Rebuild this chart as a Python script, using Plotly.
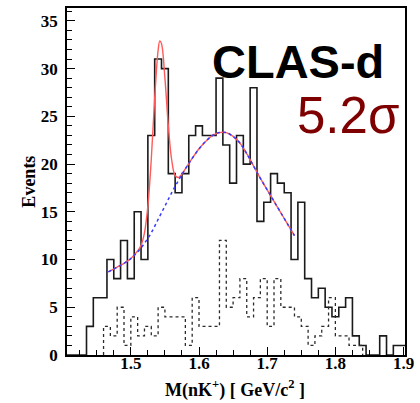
import plotly.graph_objects as go

# ---------------- data ----------------
bin_width = 0.01

# solid histogram (bin centres, counts)
solid_centers = [1.41, 1.42, 1.43, 1.44, 1.45, 1.46, 1.47, 1.48, 1.49, 1.50,
                 1.51, 1.52, 1.53, 1.54, 1.55, 1.56, 1.57, 1.58, 1.59, 1.60,
                 1.61, 1.62, 1.63, 1.64, 1.65, 1.66, 1.67, 1.68, 1.69, 1.70,
                 1.71, 1.72, 1.73, 1.74, 1.75, 1.76, 1.77, 1.78, 1.79, 1.80,
                 1.81, 1.82, 1.83, 1.84, 1.85, 1.86, 1.87, 1.88, 1.89, 1.90]
solid_counts = [0, 0, 0, 3, 6, 6, 10, 8, 12, 8,
                15, 10, 23, 31, 30, 19, 17, 19, 23, 24,
                23, 23, 29, 22, 18, 23, 20, 28, 14, 16,
                19, 18, 17, 10, 16, 8, 6, 7, 5, 4,
                5, 6, 2, 1, 0, 0, 2, 0, 1, 1]

# dotted histogram (bin centres, counts)
dotted_centers = [1.465, 1.475, 1.485, 1.495, 1.505, 1.515, 1.525, 1.535, 1.545, 1.555,
                  1.565, 1.575, 1.585, 1.595, 1.605, 1.615, 1.625, 1.635, 1.645, 1.655,
                  1.665, 1.675, 1.685, 1.695, 1.705, 1.715, 1.725, 1.735, 1.745, 1.755,
                  1.765, 1.775, 1.785, 1.795, 1.805, 1.815, 1.825, 1.835]
dotted_counts = [3, 2, 5, 1, 4, 2, 3, 2, 5, 4,
                 4, 4, 1, 6, 3, 3, 3, 12, 5, 6,
                 8, 4, 6, 8, 3, 8, 5, 5, 4, 3,
                 1, 2, 3, 6, 2, 2, 1, 1]

# background fit (blue dotted)
bg_x = [1.467, 1.48, 1.49, 1.50, 1.51, 1.52, 1.53, 1.54, 1.55, 1.56, 1.57, 1.58,
        1.59, 1.60, 1.61, 1.62, 1.63, 1.64, 1.65, 1.66, 1.67, 1.68, 1.69, 1.70,
        1.71, 1.72, 1.73, 1.74]
bg_y = [8.7, 9.2, 9.6, 10.1, 10.8, 11.7, 12.8, 14.2, 15.6, 17.0, 18.3, 19.5,
        20.6, 21.6, 22.4, 23.0, 23.3, 23.3, 22.9, 22.2, 21.1, 19.8, 18.5, 17.3,
        16.1, 14.9, 13.7, 12.5]

# total fit (red)
fit_x = [1.467, 1.48, 1.49, 1.50, 1.51, 1.515, 1.52, 1.525, 1.53, 1.535, 1.54,
         1.5425, 1.545, 1.55, 1.555, 1.56, 1.565, 1.57, 1.575, 1.58, 1.59, 1.60,
         1.61, 1.62, 1.63, 1.64, 1.65, 1.66, 1.67, 1.68, 1.69, 1.70, 1.71, 1.72,
         1.73, 1.74]
fit_y = [8.7, 9.2, 9.6, 10.1, 10.9, 11.5, 12.8, 15.6, 20.5, 26.9, 31.9,
         32.9, 32.6, 29.0, 24.0, 20.4, 18.8, 18.6, 18.95, 19.5, 20.6, 21.6,
         22.4, 23.0, 23.3, 23.3, 22.9, 22.2, 21.1, 19.8, 18.5, 17.3, 16.1, 14.9,
         13.7, 12.5]

x_ticks = [1.5, 1.6, 1.7, 1.8, 1.9]
y_ticks = [0, 5, 10, 15, 20, 25, 30, 35]


def step_xy(centers, counts):
    edges = [c - bin_width / 2 for c in centers] + [centers[-1] + bin_width / 2]
    xs = [edges[0]] + edges
    ys = [0] + counts + [counts[-1]]
    xs = xs + [edges[-1]]
    ys = ys + [0]
    return xs, ys


fig = go.Figure()

sx, sy = step_xy(solid_centers, solid_counts)
fig.add_trace(go.Scatter(x=sx, y=sy, mode="lines", line_shape="hv",
                         line=dict(color="#1a1a1a", width=1.6), hoverinfo="skip"))

dx, dy = step_xy(dotted_centers, dotted_counts)
fig.add_trace(go.Scatter(x=dx, y=dy, mode="lines", line_shape="hv",
                         line=dict(color="#2a2a2a", width=1.3, dash="dot"), hoverinfo="skip"))

fig.add_trace(go.Scatter(x=fit_x, y=fit_y, mode="lines", line_shape="spline",
                         line=dict(color="#ff5a5a", width=1.4), hoverinfo="skip"))
fig.add_trace(go.Scatter(x=bg_x, y=bg_y, mode="lines", line_shape="spline",
                         line=dict(color="#3a3aff", width=1.5, dash="dot"), hoverinfo="skip"))

axis_font = dict(family="Liberation Serif", size=17, color="black", weight="bold")

fig.update_layout(
    width=420, height=403,
    margin=dict(l=67, r=6, t=6, b=48),
    paper_bgcolor="white", plot_bgcolor="white",
    showlegend=False,
    xaxis=dict(range=[1.4064, 1.9021], tickvals=x_ticks,
               ticktext=[f"{v:.1f}" for v in x_ticks],
               ticks="inside", ticklen=8, tickwidth=1.3, tickcolor="black",
               minor=dict(dtick=0.025, tick0=1.4, ticks="inside", ticklen=5,
                          tickwidth=1.2, tickcolor="black"),
               showline=True, linecolor="black", linewidth=1.6, mirror=True,
               showgrid=False, zeroline=False, tickfont=axis_font,
               ticklabeloverflow="allow", ticklabelstandoff=-8),
    yaxis=dict(range=[0, 36.35], tickvals=y_ticks,
               ticks="inside", ticklen=8, tickwidth=1.3, tickcolor="black",
               minor=dict(dtick=1, tick0=0, ticks="inside", ticklen=5,
                          tickwidth=1.2, tickcolor="black"),
               showline=True, linecolor="black", linewidth=1.6, mirror=True,
               showgrid=False, zeroline=False, tickfont=axis_font,
               ticklabelstandoff=4),
    annotations=[
        dict(text="<b>Events</b>", x=-0.115, y=0.5, xref="paper", yref="paper",
             textangle=-90, showarrow=False, xanchor="center", yanchor="middle",
             font=dict(family="Liberation Serif", size=18, color="black")),
        dict(text="<b>M(nK<sup>+</sup>) [ GeV/c<sup>2</sup> ]</b>", x=0.497, y=-0.097,
             xref="paper", yref="paper", showarrow=False,
             xanchor="center", yanchor="middle",
             font=dict(family="Liberation Sans", size=18, color="black")
             if False else dict(family="Liberation Serif", size=18, color="black")),
        dict(text="<b>CLAS-d</b>", x=0.683, y=0.846, xref="paper", yref="paper",
             showarrow=False, xanchor="center", yanchor="middle",
             font=dict(family="Liberation Sans", size=47, color="black")),
        dict(text="5.2σ", x=0.832, y=0.69, xref="paper", yref="paper",
             showarrow=False, xanchor="center", yanchor="middle",
             font=dict(family="Liberation Sans", size=51, color="#7f0000")),
    ],
)

fig.write_html("out.html")
